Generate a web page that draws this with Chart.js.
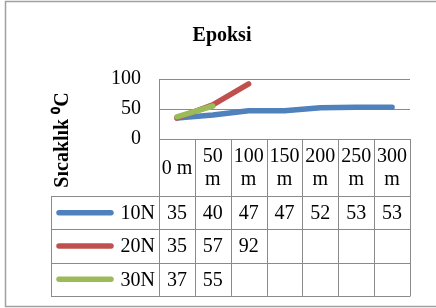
<!DOCTYPE html>
<html>
<head>
<meta charset="utf-8">
<script src="https://cdn.jsdelivr.net/npm/chart.js@4.4.1/dist/chart.umd.min.js"></script>
<style>
html,body{margin:0;padding:0;background:#fff;}
#wrap{width:436px;height:308px;position:relative;}
</style>
</head>
<body>
<div id="wrap"><canvas id="c" width="436" height="308"></canvas></div>
<script>
const categories = [["0 m"], ["50", "m"], ["100", "m"], ["150", "m"], ["200", "m"], ["250", "m"], ["300", "m"]];
const seriesNames = ["10N", "20N", "30N"];
const values10N = [35, 40, 47, 47, 52, 53, 53];
const values20N = [35, 57, 92, null, null, null, null];
const values30N = [37, 55, null, null, null, null, null];
const yTicks = [0, 50, 100];
const chartTitle = "Epoksi";
const yTitle = "Sıcaklık ⁰C";

const colors = ["#4F81BD", "#C0504D", "#9BBB59"];
const seriesValues = [values10N, values20N, values30N];
const FONT = "'Liberation Serif', 'Times New Roman', serif";
const GRID = "#8a8a8a";

const tablePlugin = {
  id: 'tablePlugin',
  beforeDraw(chart) {
    const ctx = chart.ctx;
    ctx.save();
    ctx.fillStyle = '#fff';
    ctx.fillRect(0, 0, chart.width, chart.height);
    ctx.strokeStyle = '#a0a0a0';
    ctx.lineWidth = 1.5;
    ctx.strokeRect(5.5, 1.5, 440, 305);
    ctx.restore();
  },
  afterDraw(chart) {
    const ctx = chart.ctx;
    const x = chart.scales.x, y = chart.scales.y;
    const ca = chart.chartArea;
    const n = categories.length;
    const colW = (ca.right - ca.left) / n;
    const top = Math.round(y.getPixelForValue(0));
    const headerBottom = top + 57;
    const rowH = 33.3;
    const legendLeft = 51;
    const tableBottom = headerBottom + rowH * seriesNames.length;
    const al = v => Math.round(v) + 0.5;
    ctx.save();
    ctx.strokeStyle = GRID;
    ctx.lineWidth = 1;
    ctx.beginPath();
    for (let i = 0; i <= n; i++) {
      const xx = al(ca.left + i * colW);
      ctx.moveTo(xx, top);
      ctx.lineTo(xx, tableBottom);
    }
    ctx.moveTo(al(legendLeft), headerBottom);
    ctx.lineTo(al(legendLeft), tableBottom);
    ctx.moveTo(ca.left, al(top)); ctx.lineTo(ca.right, al(top));
    for (let r = 0; r <= seriesNames.length; r++) {
      const yy = al(headerBottom + r * rowH);
      ctx.moveTo(legendLeft, yy);
      ctx.lineTo(ca.right + 0.5, yy);
    }
    ctx.stroke();

    ctx.fillStyle = '#000';
    ctx.font = '20px ' + FONT;
    ctx.textAlign = 'center';
    ctx.textBaseline = 'middle';
    const hc = (top + headerBottom) / 2 + 1;
    categories.forEach((lab, i) => {
      const cx = x.getPixelForValue(i);
      const lh = 23;
      const start = hc - (lab.length - 1) * lh / 2;
      lab.forEach((t, j) => ctx.fillText(t, cx, start + j * lh));
    });
    seriesNames.forEach((name, r) => {
      const cy = headerBottom + r * rowH + rowH / 2 + 1;
      ctx.textAlign = 'center';
      seriesValues[r].forEach((v, i) => {
        if (v !== null) ctx.fillText(String(v), x.getPixelForValue(i), cy);
      });
      ctx.textAlign = 'right';
      ctx.fillText(name, 155, cy);
      ctx.save();
      ctx.strokeStyle = colors[r];
      ctx.lineWidth = 5.5;
      ctx.lineCap = 'round';
      ctx.beginPath();
      ctx.moveTo(59, cy - 1);
      ctx.lineTo(111, cy - 1);
      ctx.stroke();
      ctx.restore();
    });

    ctx.textAlign = 'center';
    ctx.textBaseline = 'alphabetic';
    ctx.font = 'bold 20px ' + FONT;
    ctx.fillText(chartTitle, 222, 41);

    ctx.save();
    ctx.translate(68, 140);
    ctx.rotate(-Math.PI / 2);
    ctx.textAlign = 'center';
    ctx.textBaseline = 'alphabetic';
    ctx.fillText(yTitle, 0, 0);
    ctx.restore();
    ctx.restore();
  }
};

new Chart(document.getElementById('c'), {
  type: 'line',
  data: {
    labels: categories.map(c => c.join(' ')),
    datasets: seriesNames.map((name, i) => ({
      label: name,
      data: seriesValues[i],
      order: seriesNames.length - 1 - i,
      borderColor: colors[i],
      backgroundColor: colors[i],
      borderWidth: 5.5,
      pointRadius: 0,
      borderCapStyle: 'round',
      borderJoinStyle: 'round',
      tension: 0,
      spanGaps: false
    }))
  },
  options: {
    responsive: false,
    animation: false,
    devicePixelRatio: 1,
    layout: { padding: { top: 79, right: 26, bottom: 169, left: 0 } },
    plugins: { legend: { display: false }, tooltip: { enabled: false }, title: { display: false } },
    scales: {
      x: { type: 'category', offset: true, display: false },
      y: {
        min: 0, max: 100,
        afterFit(s) { s.width = 159; },
        afterBuildTicks(s) { s.ticks = yTicks.map(v => ({ value: v })); },
        ticks: { color: '#000', font: { family: FONT, size: 20 }, padding: 18 },
        grid: { color: GRID, drawTicks: false, lineWidth: 1 },
        border: { color: GRID, width: 1 }
      }
    }
  },
  plugins: [tablePlugin]
});
</script>
</body>
</html>
